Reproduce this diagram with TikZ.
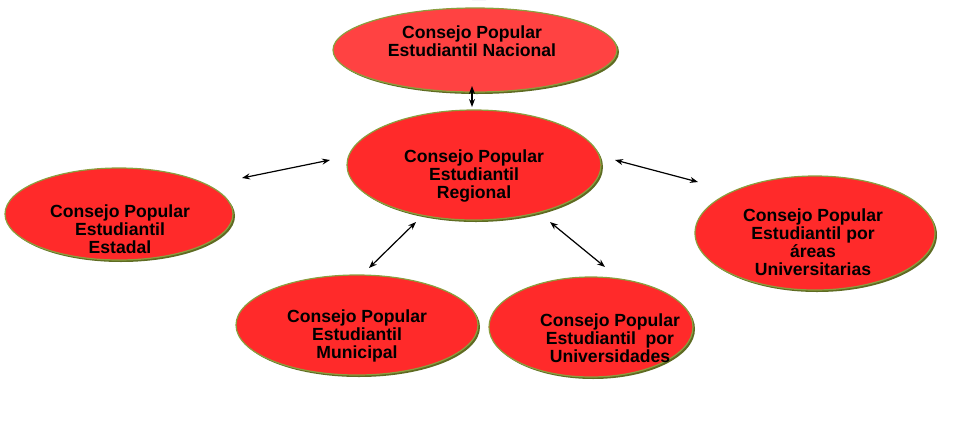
\documentclass[tikz,border=0pt]{standalone}
\usepackage{fontspec}
\setmainfont{Liberation Sans}
\begin{document}
\begin{tikzpicture}[x=1pt,y=-1pt,
  shell/.style={ellipse, draw=cpborder, line width=1.2pt, fill=cpred, inner sep=0pt},
  shade/.style={ellipse, fill=cpshadow, draw=none, inner sep=0pt},
  lbl/.style={font=\fontsize{17.6}{18}\selectfont\bfseries, align=center, text=black},
  link/.style={<->, >={Stealth[length=8pt,width=6pt]}, line width=1.2pt, black}]
\usetikzlibrary{shapes.geometric,arrows.meta}
\definecolor{cpred}{HTML}{FF2A2A}
\definecolor{cpredl}{HTML}{FF4242}
\definecolor{cpshadow}{HTML}{5E6B22}
\definecolor{cpborder}{HTML}{8A9E3E}
\useasboundingbox (0,0) rectangle (954,445);
% small partial shape at top edge
\fill[blue!20!gray!50] (472,0) arc[start angle=180,end angle=360,x radius=7,y radius=4] -- cycle;
% shadows
\node[shade, minimum width=284pt, minimum height=84pt] (nacS) at (477,52) {};
\node[shade, minimum width=254pt, minimum height=110pt] (regS) at (476,167) {};
\node[shade, minimum width=228pt, minimum height=92pt] (estS) at (121,216) {};
\node[shade, minimum width=240pt, minimum height=114pt] (areS) at (817,235) {};
\node[shade, minimum width=242pt, minimum height=100pt] (munS) at (359,327) {};
\node[shade, minimum width=204pt, minimum height=100pt] (uniS) at (593,329) {};
% ellipses
\node[shell, fill=cpredl, minimum width=284pt, minimum height=84pt] (nac) at (475,50) {};
\node[shell, minimum width=254pt, minimum height=110pt] (reg) at (474,165) {};
\node[shell, minimum width=228pt, minimum height=92pt] (est) at (119,214) {};
\node[shell, minimum width=240pt, minimum height=114pt] (are) at (815,233) {};
\node[shell, minimum width=242pt, minimum height=100pt] (mun) at (357,325) {};
\node[shell, minimum width=204pt, minimum height=100pt] (uni) at (591,327) {};
% labels
\node[lbl] (nacT) at (472,41) {Consejo Popular\\Estudiantil Nacional};
\node[lbl] (regT) at (474,176) {Consejo Popular\\Estudiantil\\Regional};
\node[lbl] (estT) at (120,229) {Consejo Popular\\Estudiantil\\Estadal};
\node[lbl] (areT) at (813,242) {Consejo Popular\\Estudiantil por\\áreas\\Universitarias};
\node[lbl] (munT) at (357,336) {Consejo Popular\\Estudiantil\\Municipal};
\node[lbl] (uniT) at (610,338) {Consejo Popular\\Estudiantil\ \ por\\Universidades};
% arrow end points
\coordinate (a1) at (472,86);  \coordinate (a2) at (472,107);
\coordinate (b1) at (330,160); \coordinate (b2) at (242,178);
\coordinate (c1) at (615,160); \coordinate (c2) at (698,182);
\coordinate (d1) at (416,222); \coordinate (d2) at (369,268);
\coordinate (e1) at (550,222); \coordinate (e2) at (605,267);
\draw[link] (a1) -- (a2);
\draw[link] (b1) -- (b2);
\draw[link] (c1) -- (c2);
\draw[link] (d1) -- (d2);
\draw[link] (e1) -- (e2);
\end{tikzpicture}
\end{document}
